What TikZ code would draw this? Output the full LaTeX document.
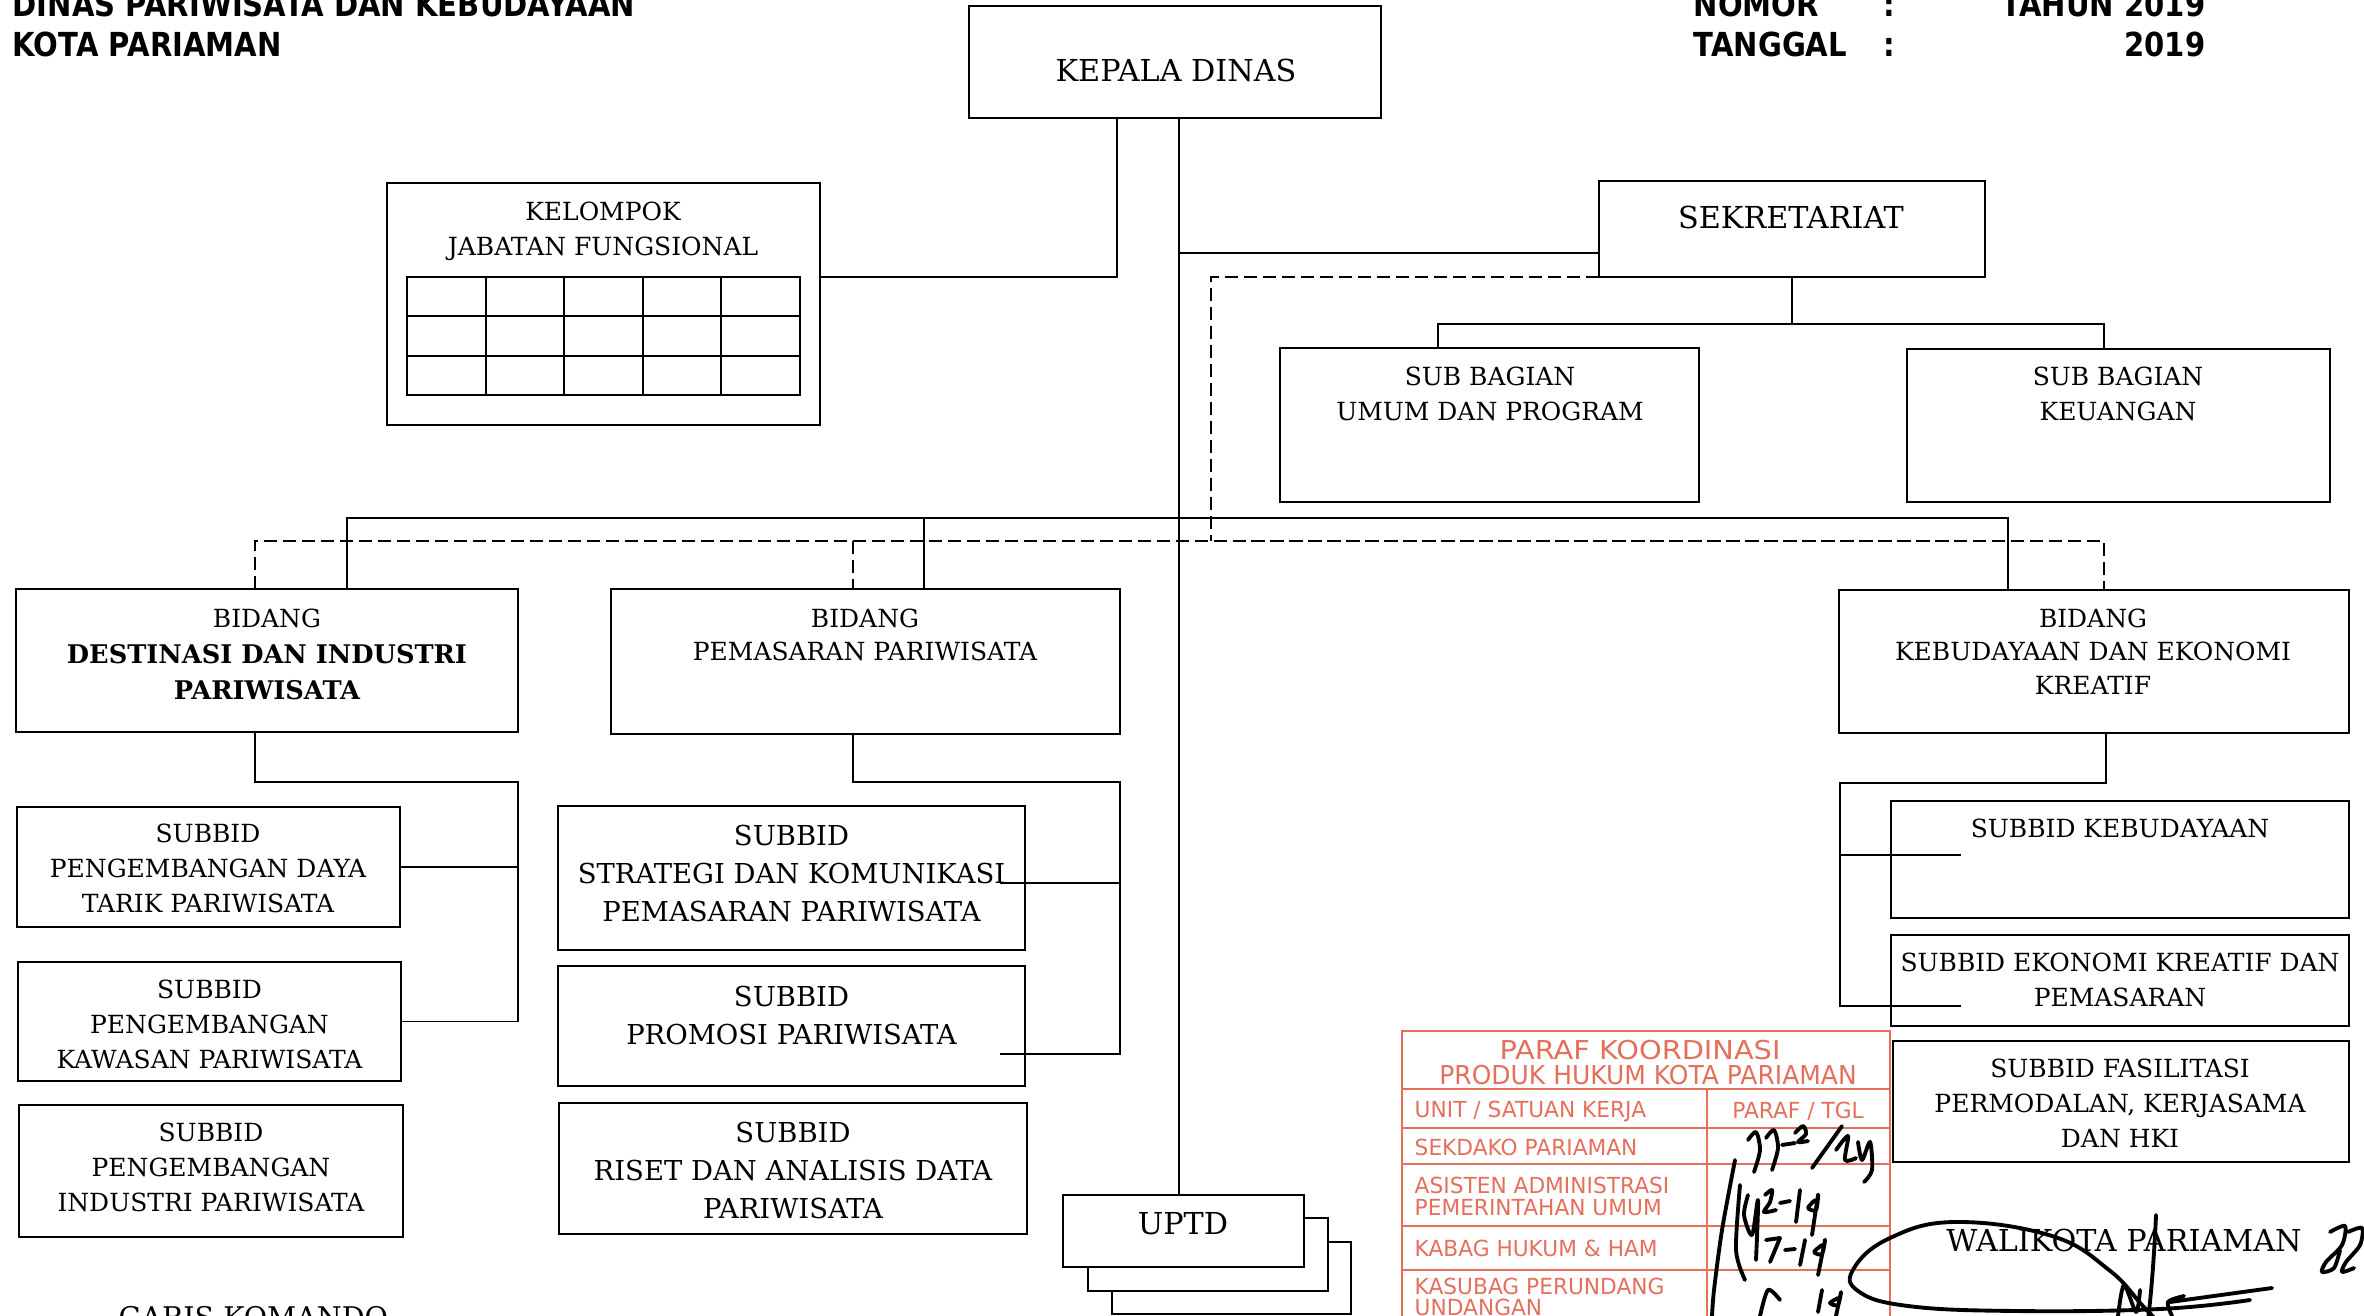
\documentclass[tikz,border=0pt]{standalone}
\usepackage{fontspec}
\setmainfont{DejaVu Serif}
\newfontfamily\headfont{DejaVu Sans}[FakeStretch=0.88]
\newfontfamily\stampfont{DejaVu Sans}[FakeStretch=0.98]
\definecolor{stampred}{RGB}{228,112,92}
\tikzset{
  unit/.style={draw, line width=0.6pt, inner sep=0pt, outer sep=0pt},
  txt/.style={inner sep=0pt, align=center, anchor=north, font=\fontsize{7.1}{9.96}\selectfont},
  txtmid/.style={txt, font=\fontsize{7.8}{10.9}\selectfont},
  txtbig/.style={inner sep=0pt, font=\fontsize{8.6}{10}\selectfont},
  cmd/.style={line width=0.55pt},
  coord/.style={line width=0.6pt, dash pattern=on 3.8pt off 1.6pt},
  ink/.style={line width=1.1pt, line cap=round, line join=round},
  stamp/.style={draw=stampred, line width=0.7pt},
  stamptxt/.style={text=stampred, inner sep=0pt, font=\stampfont\fontsize{6.3}{7}\selectfont},
  stamphead/.style={stamptxt, font=\stampfont\fontsize{7.4}{8}\selectfont},
  head/.style={inner sep=0pt, font=\headfont\bfseries\fontsize{9.4}{11}\selectfont}
}
\begin{document}
\begin{tikzpicture}[x=0.01cm,y=-0.01cm]
    \useasboundingbox (0,0) rectangle (2364,1316);
    % headers
    \node[head, anchor=base west] (headA) at (12,16.6) {DINAS PARIWISATA DAN KEBUDAYAAN};
    \node[head, anchor=base west] (headB) at (12,57) {KOTA PARIAMAN};
    \node[head, anchor=base west] (nomor) at (1693,16.6) {NOMOR};
    \node[head, anchor=base] (nomorC) at (1889,16.6) {:};
    \node[head, anchor=base east] (tahun) at (2206,16.6) {TAHUN 2019};
    \node[head, anchor=base west] (tanggal) at (1693,57) {TANGGAL};
    \node[head, anchor=base] (tanggalC) at (1889,57) {:};
    \node[head, anchor=base east] (tgl) at (2206,57) {2019};
    % paraf koordinasi stamp
    \draw[stamp] (1402,1316) -- (1402,1031) -- (1890,1031) -- (1890,1316);
    \foreach \ry in {1089,1128,1164,1226,1270}
      \draw[stamp] (1402,\ry) -- (1890,\ry);
    \draw[stamp] (1707,1089) -- (1707,1316);
    \node[stamphead] (parafA) at (1640,1050) {\scalebox{1.13}[1]{PARAF KOORDINASI}};
    \node[stamphead] (parafB) at (1648,1075) {\scalebox{0.98}[1]{PRODUK HUKUM KOTA PARIAMAN}};
    \node[stamptxt, anchor=west] (unitK) at (1414,1111) {UNIT / SATUAN KERJA};
    \node[stamptxt] (parafT) at (1798,1111) {PARAF / TGL};
    \node[stamptxt, anchor=west] (sekda) at (1414,1147) {SEKDAKO PARIAMAN};
    \node[stamptxt, anchor=west] (asistA) at (1414,1185) {ASISTEN ADMINISTRASI};
    \node[stamptxt, anchor=west] (asistB) at (1414,1208) {PEMERINTAHAN UMUM};
    \node[stamptxt, anchor=west] (kabag) at (1414,1248) {KABAG HUKUM \& HAM};
    \node[stamptxt, anchor=west] (kasubA) at (1414,1286) {KASUBAG PERUNDANG};
    \node[stamptxt, anchor=west] (kasubB) at (1414,1307) {UNDANGAN};
    % boxes
    \node[unit, minimum width=4.12cm, minimum height=1.12cm] (kepala) at (1175,62) {};
    \node[txtbig] (kepalaT) at (1176,71) {KEPALA DINAS};
    \node[unit, minimum width=4.33cm, minimum height=2.42cm] (kelompok) at (603.5,304) {};
    \node[txt] (kelompokT) at (603,201) {KELOMPOK\\JABATAN FUNGSIONAL};
    \draw[cmd] (407,277) rectangle (800,395);
    \foreach \i in {1,...,4}
      \draw[cmd] ({407+78.6*\i},277) -- ({407+78.6*\i},395);
    \foreach \j in {1,2}
      \draw[cmd] (407,{277+39.33*\j}) -- (800,{277+39.33*\j});
    \node[unit, minimum width=3.86cm, minimum height=0.96cm] (sekretariat) at (1792,229) {};
    \node[txtbig] (sekretariatT) at (1791,217) {SEKRETARIAT};
    \node[unit, minimum width=4.19cm, minimum height=1.54cm] (subumum) at (1489.5,425) {};
    \node[txt] (subumumT) at (1490,366) {SUB BAGIAN\\UMUM DAN PROGRAM};
    \node[unit, minimum width=4.23cm, minimum height=1.53cm] (subkeu) at (2118.5,425.5) {};
    \node[txt] (subkeuT) at (2118,366) {SUB BAGIAN\\KEUANGAN};
    \node[unit, minimum width=5.02cm, minimum height=1.43cm] (destinasi) at (267,660.5) {};
    \node[txt, font=\fontsize{7.1}{10.25}\selectfont] (destinasiT) at (267,608)
      {BIDANG\\\bfseries\fontsize{7.3}{10.25}\selectfont DESTINASI DAN INDUSTRI\\\bfseries\fontsize{7.3}{10.25}\selectfont PARIWISATA};
    \node[unit, minimum width=5.09cm, minimum height=1.45cm] (pemasaran) at (865.5,661.5) {};
    \node[txt, font=\fontsize{7.1}{9.6}\selectfont] (pemasaranT) at (865,608) {BIDANG\\PEMASARAN PARIWISATA};
    \node[unit, minimum width=5.10cm, minimum height=1.43cm] (kebudayaan) at (2094,661.5) {};
    \node[txt, font=\fontsize{7.1}{9.6}\selectfont] (kebudayaanT) at (2093,608) {BIDANG\\KEBUDAYAAN DAN EKONOMI\\KREATIF};
    \node[unit, minimum width=3.83cm, minimum height=1.20cm] (sbDaya) at (208.5,867) {};
    \node[txt] (sbDayaT) at (208,823) {SUBBID\\PENGEMBANGAN DAYA\\TARIK PARIWISATA};
    \node[unit, minimum width=3.83cm, minimum height=1.19cm] (sbKawasan) at (209.5,1021.5) {};
    \node[txt] (sbKawasanT) at (209.5,979) {SUBBID\\PENGEMBANGAN\\KAWASAN PARIWISATA};
    \node[unit, minimum width=3.84cm, minimum height=1.32cm] (sbIndustri) at (211,1171) {};
    \node[txt] (sbIndustriT) at (211,1122) {SUBBID\\PENGEMBANGAN\\INDUSTRI PARIWISATA};
    \node[unit, minimum width=4.67cm, minimum height=1.44cm] (sbStrategi) at (791.5,878) {};
    \node[txtmid] (sbStrategiT) at (791.5,824) {SUBBID\\STRATEGI DAN KOMUNIKASI\\PEMASARAN PARIWISATA};
    \node[unit, minimum width=4.67cm, minimum height=1.20cm] (sbPromosi) at (791.5,1026) {};
    \node[txtmid] (sbPromosiT) at (791.5,985) {SUBBID\\PROMOSI PARIWISATA};
    \node[unit, minimum width=4.68cm, minimum height=1.31cm] (sbRiset) at (793,1168.5) {};
    \node[txtmid] (sbRisetT) at (793,1121) {SUBBID\\RISET DAN ANALISIS DATA\\PARIWISATA};
    \node[unit, minimum width=4.58cm, minimum height=1.17cm] (sbBudaya) at (2120,859.5) {};
    \node[txt] (sbBudayaT) at (2120,818) {SUBBID KEBUDAYAAN};
    \node[unit, minimum width=4.58cm, minimum height=0.91cm] (sbEkraf) at (2120,980.5) {};
    \node[txt] (sbEkrafT) at (2120,952) {SUBBID EKONOMI KREATIF DAN\\PEMASARAN};
    \node[unit, minimum width=4.56cm, minimum height=1.21cm] (sbFasilitasi) at (2121,1101.5) {};
    \node[txt] (sbFasilitasiT) at (2120,1058) {SUBBID FASILITASI\\PERMODALAN, KERJASAMA\\DAN HKI};
    \node[unit, fill=white, minimum width=2.39cm, minimum height=0.72cm] (uptdC) at (1231.5,1278) {};
    \node[unit, fill=white, minimum width=2.40cm, minimum height=0.73cm] (uptdB) at (1208,1254.5) {};
    \node[unit, fill=white, minimum width=2.41cm, minimum height=0.72cm] (uptd) at (1183.5,1231) {};
    \node[txtbig] (uptdT) at (1183,1224) {UPTD};
    \node[txtbig] (walikota) at (2124,1240) {WALIKOTA PARIAMAN};
    \node[txtbig, anchor=north west, font=\fontsize{8.1}{10}\selectfont] (garis) at (118,1306) {GARIS KOMANDO};
    % garis komando
    \coordinate (spine) at (1179,0);
    \coordinate (jfX) at (1117,277);
    \coordinate (sekY) at (0,253);
    \draw[cmd] (kepala.south -| spine) -- (uptd.north -| spine);
    \draw[cmd] (kepala.south -| jfX) -- (jfX) -- (kelompok.east |- jfX);
    \draw[cmd] (spine |- sekY) -- (sekretariat.west |- sekY);
    \coordinate (sbL) at (1438,324);
    \coordinate (sbR) at (2104,324);
    \draw[cmd] (sekretariat.south) -- (sekretariat.south |- sbL);
    \draw[cmd] (subumum.north -| sbL) -- (sbL) -- (sbR) -- (subkeu.north -| sbR);
    \coordinate (sA) at (347,518);
    \coordinate (sB) at (924,518);
    \coordinate (sC) at (2008,518);
    \draw[cmd] (destinasi.north -| sA) -- (sA) -- (sC) -- (kebudayaan.north -| sC);
    \draw[cmd] (sB) -- (pemasaran.north -| sB);
    \coordinate (dsTop) at (255,782);
    \coordinate (dsRight) at (518,782);
    \draw[cmd] (destinasi.south -| dsTop) -- (dsTop) -- (dsRight) -- (dsRight |- sbKawasan.east) -- (sbKawasan.east);
    \draw[cmd] (sbDaya.east) -- (sbDaya.east -| dsRight);
    \coordinate (pmTop) at (853,782);
    \coordinate (pmRight) at (1120,782);
    \coordinate (pmS) at (1000,883);
    \coordinate (pmP) at (1000,1054);
    \draw[cmd] (pemasaran.south -| pmTop) -- (pmTop) -- (pmRight) -- (pmRight |- pmP) -- (pmP);
    \draw[cmd] (pmS) -- (pmS -| pmRight);
    \coordinate (kbTop) at (2106,783);
    \coordinate (kbLeft) at (1840,783);
    \coordinate (kbA) at (1961,855);
    \coordinate (kbB) at (1961,1006);
    \draw[cmd] (kebudayaan.south -| kbTop) -- (kbTop) -- (kbLeft) -- (kbLeft |- kbB) -- (kbB);
    \draw[cmd] (kbLeft |- kbA) -- (kbA);
    % garis koordinasi
    \coordinate (dX) at (1211,541);
    \coordinate (dA) at (255,541);
    \coordinate (dB) at (853,541);
    \coordinate (dC) at (2104,541);
    \draw[coord] (sekretariat.south west) -- (sekretariat.south west -| dX) -- (dX);
    \draw[coord] (destinasi.north -| dA) -- (dA) -- (dC) -- (kebudayaan.north -| dC);
    \draw[coord] (dB) -- (pemasaran.north -| dB);
    % paraf
    \draw[ink] plot[smooth] coordinates {(1748,1140) (1756,1132) (1760,1150) (1754,1172)};
    \draw[ink] plot[smooth] coordinates {(1766,1138) (1774,1130) (1778,1148) (1772,1170)};
    \draw[ink] (1782,1145) -- (1795,1143);
    \draw[ink] plot[smooth] coordinates {(1795,1133) (1803,1126) (1806,1134) (1798,1142) (1808,1141)};
    \draw[ink] (1812,1168) -- (1842,1126);
    \draw[ink] plot[smooth] coordinates {(1836,1150) (1848,1136) (1845,1160) (1856,1158)};
    \draw[ink] plot[smooth] coordinates {(1858,1142) (1862,1160) (1870,1142) (1872,1170) (1864,1182)};
    \draw[ink] plot[smooth] coordinates {(1735,1160) (1722,1230) (1714,1290) (1712,1316)};
    \draw[ink] plot[smooth] coordinates {(1740,1185) (1736,1250) (1745,1280)};
    \draw[ink] plot[smooth] coordinates {(1748,1195) (1744,1215) (1752,1235) (1758,1200) (1756,1260)};
    \draw[ink] plot[smooth] coordinates {(1765,1195) (1772,1190) (1770,1202) (1764,1212) (1776,1210)};
    \draw[ink] (1780,1203) -- (1790,1201);
    \draw[ink] (1800,1190) -- (1796,1222);
    \draw[ink] plot[smooth] coordinates {(1815,1200) (1808,1208) (1816,1210) (1818,1195) (1812,1235)};
    \draw[ink] (1766,1240) -- (1780,1238) -- (1770,1262);
    \draw[ink] (1785,1250) -- (1795,1249);
    \draw[ink] (1805,1240) -- (1800,1265);
    \draw[ink] plot[smooth] coordinates {(1822,1245) (1814,1252) (1822,1254) (1825,1240) (1818,1275)};
    \draw[ink] plot[smooth] coordinates {(1760,1316) (1768,1290) (1780,1300)};
    \draw[ink] (1818,1312) -- (1822,1290);
    \draw[ink] plot[smooth] coordinates {(1838,1298) (1830,1303) (1838,1305) (1841,1292) (1836,1316)};
    % tanda tangan
    \draw[ink] plot[smooth, tension=0.7] coordinates {(2250,1300) (2160,1309) (2016,1311) (1908,1306) (1858,1291) (1854,1268) (1890,1238) (1955,1222) (2052,1236) (2109,1270) (2142,1305) (2162,1326)};
    \draw[ink] (2156,1215) .. controls (2154,1260) and (2151,1295) .. (2148,1320);
    \draw[ink] plot[smooth] coordinates {(2118,1316) (2124,1285) (2136,1312) (2140,1290)};
    \draw[ink] plot[smooth] coordinates {(2184,1296) (2168,1302) (2172,1316)};
    \draw[ink] (2170,1302) -- (2272,1288);
    \draw[ink] plot[smooth] coordinates {(2330,1232) (2345,1226) (2342,1245) (2326,1262) (2322,1272) (2334,1268) (2340,1250)};
    \draw[ink] plot[smooth] coordinates {(2348,1232) (2362,1228) (2360,1245) (2346,1262) (2342,1272) (2354,1268)};
  \end{tikzpicture}
\end{document}
